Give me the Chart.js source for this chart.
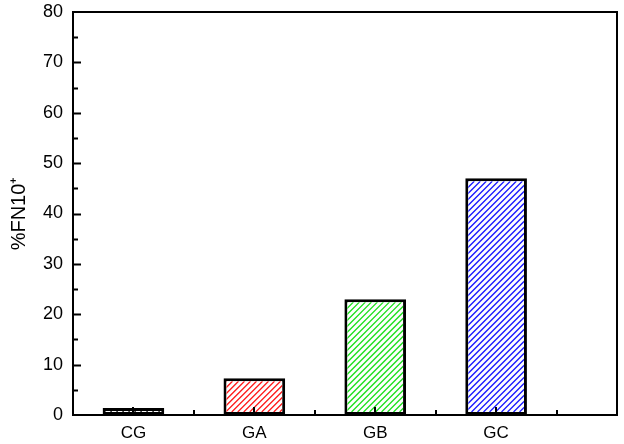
<!DOCTYPE html>
<html>
<head>
<meta charset="utf-8">
<script src="https://cdn.jsdelivr.net/npm/chart.js@4/dist/chart.umd.min.js"></script>
<style>
html,body{margin:0;padding:0;background:#fff;}
#wrap{width:624px;height:444px;position:relative;}
</style>
</head>
<body>
<div id="wrap"><canvas id="c"></canvas></div>
<script>
const categories = ['CG', 'GA', 'GB', 'GC'];
const values = [1.4, 7.3, 23, 47];
const hatchColors = ['#202020', '#ff1a1a', '#1ee01e', '#1a1aff'];
const yTicks = [0, 10, 20, 30, 40, 50, 60, 70, 80];
const yTitle = '%FN10\u207A';

const BW = 3;
const GAP = 6;

const frame = {
  id: 'frame',
  afterDatasetsDraw(chart) {
    const {ctx, chartArea: a, scales: {x, y}} = chart;
    ctx.save();
    const meta = chart.getDatasetMeta(0);
    meta.data.forEach((el, i) => {
      const p = el.getProps(['x', 'y', 'base', 'width'], true);
      const l = p.x - p.width / 2 + BW, r = p.x + p.width / 2 - BW;
      const t = Math.min(p.y, p.base) + BW, b = Math.max(p.y, p.base) - BW;
      if (r <= l || b <= t) return;
      ctx.save();
      ctx.beginPath();
      ctx.rect(l, t, r - l, b - t);
      ctx.clip();
      ctx.strokeStyle = hatchColors[i % hatchColors.length];
      ctx.lineWidth = 1.3;
      ctx.beginPath();
      const H = b - t;
      for (let k = -H - GAP; k < (r - l) + GAP; k += GAP) {
        ctx.moveTo(l + k, b);
        ctx.lineTo(l + k + H, t);
      }
      ctx.stroke();
      ctx.restore();
    });
    ctx.strokeStyle = '#000';
    ctx.lineWidth = 2;
    ctx.strokeRect(a.left, a.top, a.right - a.left, a.bottom - a.top);
    ctx.beginPath();
    for (let v = 5; v < 80; v += 5) {
      const py = Math.round(y.getPixelForValue(v)) + 0.5;
      const len = (v % 10 === 0) ? 8 : 5;
      ctx.moveTo(a.left, py); ctx.lineTo(a.left + len, py);
    }
    for (let i = 0; i < categories.length; i++) {
      let px = Math.round(x.getPixelForValue(i));
      ctx.moveTo(px, a.bottom); ctx.lineTo(px, a.bottom - 8);
      px = Math.round(x.getPixelForValue(i + 0.5));
      ctx.moveTo(px, a.bottom); ctx.lineTo(px, a.bottom - 5);
    }
    ctx.stroke();
    ctx.restore();
  }
};

const fontFam = "'Liberation Sans', Arial, sans-serif";

new Chart(document.getElementById('c'), {
  type: 'bar',
  data: {
    datasets: [{
      data: categories.map((c, i) => ({x: i, y: values[i]})),
      backgroundColor: '#ffffff',
      borderColor: '#000',
      borderWidth: BW,
      borderSkipped: false,
      categoryPercentage: 1,
      barPercentage: 0.51
    }]
  },
  options: {
    responsive: true,
    maintainAspectRatio: false,
    animation: false,
    layout: {padding: {top: 12, right: 7, left: 0, bottom: 0}},
    plugins: {legend: {display: false}, tooltip: {enabled: false}},
    scales: {
      x: {
        type: 'linear',
        offset: false,
        min: -0.5,
        max: 4,
        grid: {display: false, drawTicks: false},
        border: {display: false},
        afterBuildTicks(s) { s.ticks = categories.map((c, i) => ({value: i})); },
        afterFit(s) { s.height = 29; s.paddingLeft = 0; s.paddingRight = 0; },
        ticks: {
          autoSkip: false,
          maxRotation: 0,
          padding: 8,
          color: '#000',
          font: {family: fontFam, size: 17},
          callback: (v) => categories[v]
        }
      },
      y: {
        min: 0,
        max: 80,
        grid: {display: false, drawTicks: false},
        border: {display: false},
        afterBuildTicks(s) { s.ticks = yTicks.map(v => ({value: v})); },
        afterFit(s) { s.width = 73; s.paddingTop = 0; s.paddingBottom = 0; },
        ticks: {padding: 10, color: '#000', font: {family: fontFam, size: 18}},
        title: {
          display: true,
          text: yTitle,
          color: '#000',
          font: {family: fontFam, size: 20},
          padding: {top: 7, bottom: 0}
        }
      }
    }
  },
  plugins: [frame]
});
</script>
</body>
</html>
